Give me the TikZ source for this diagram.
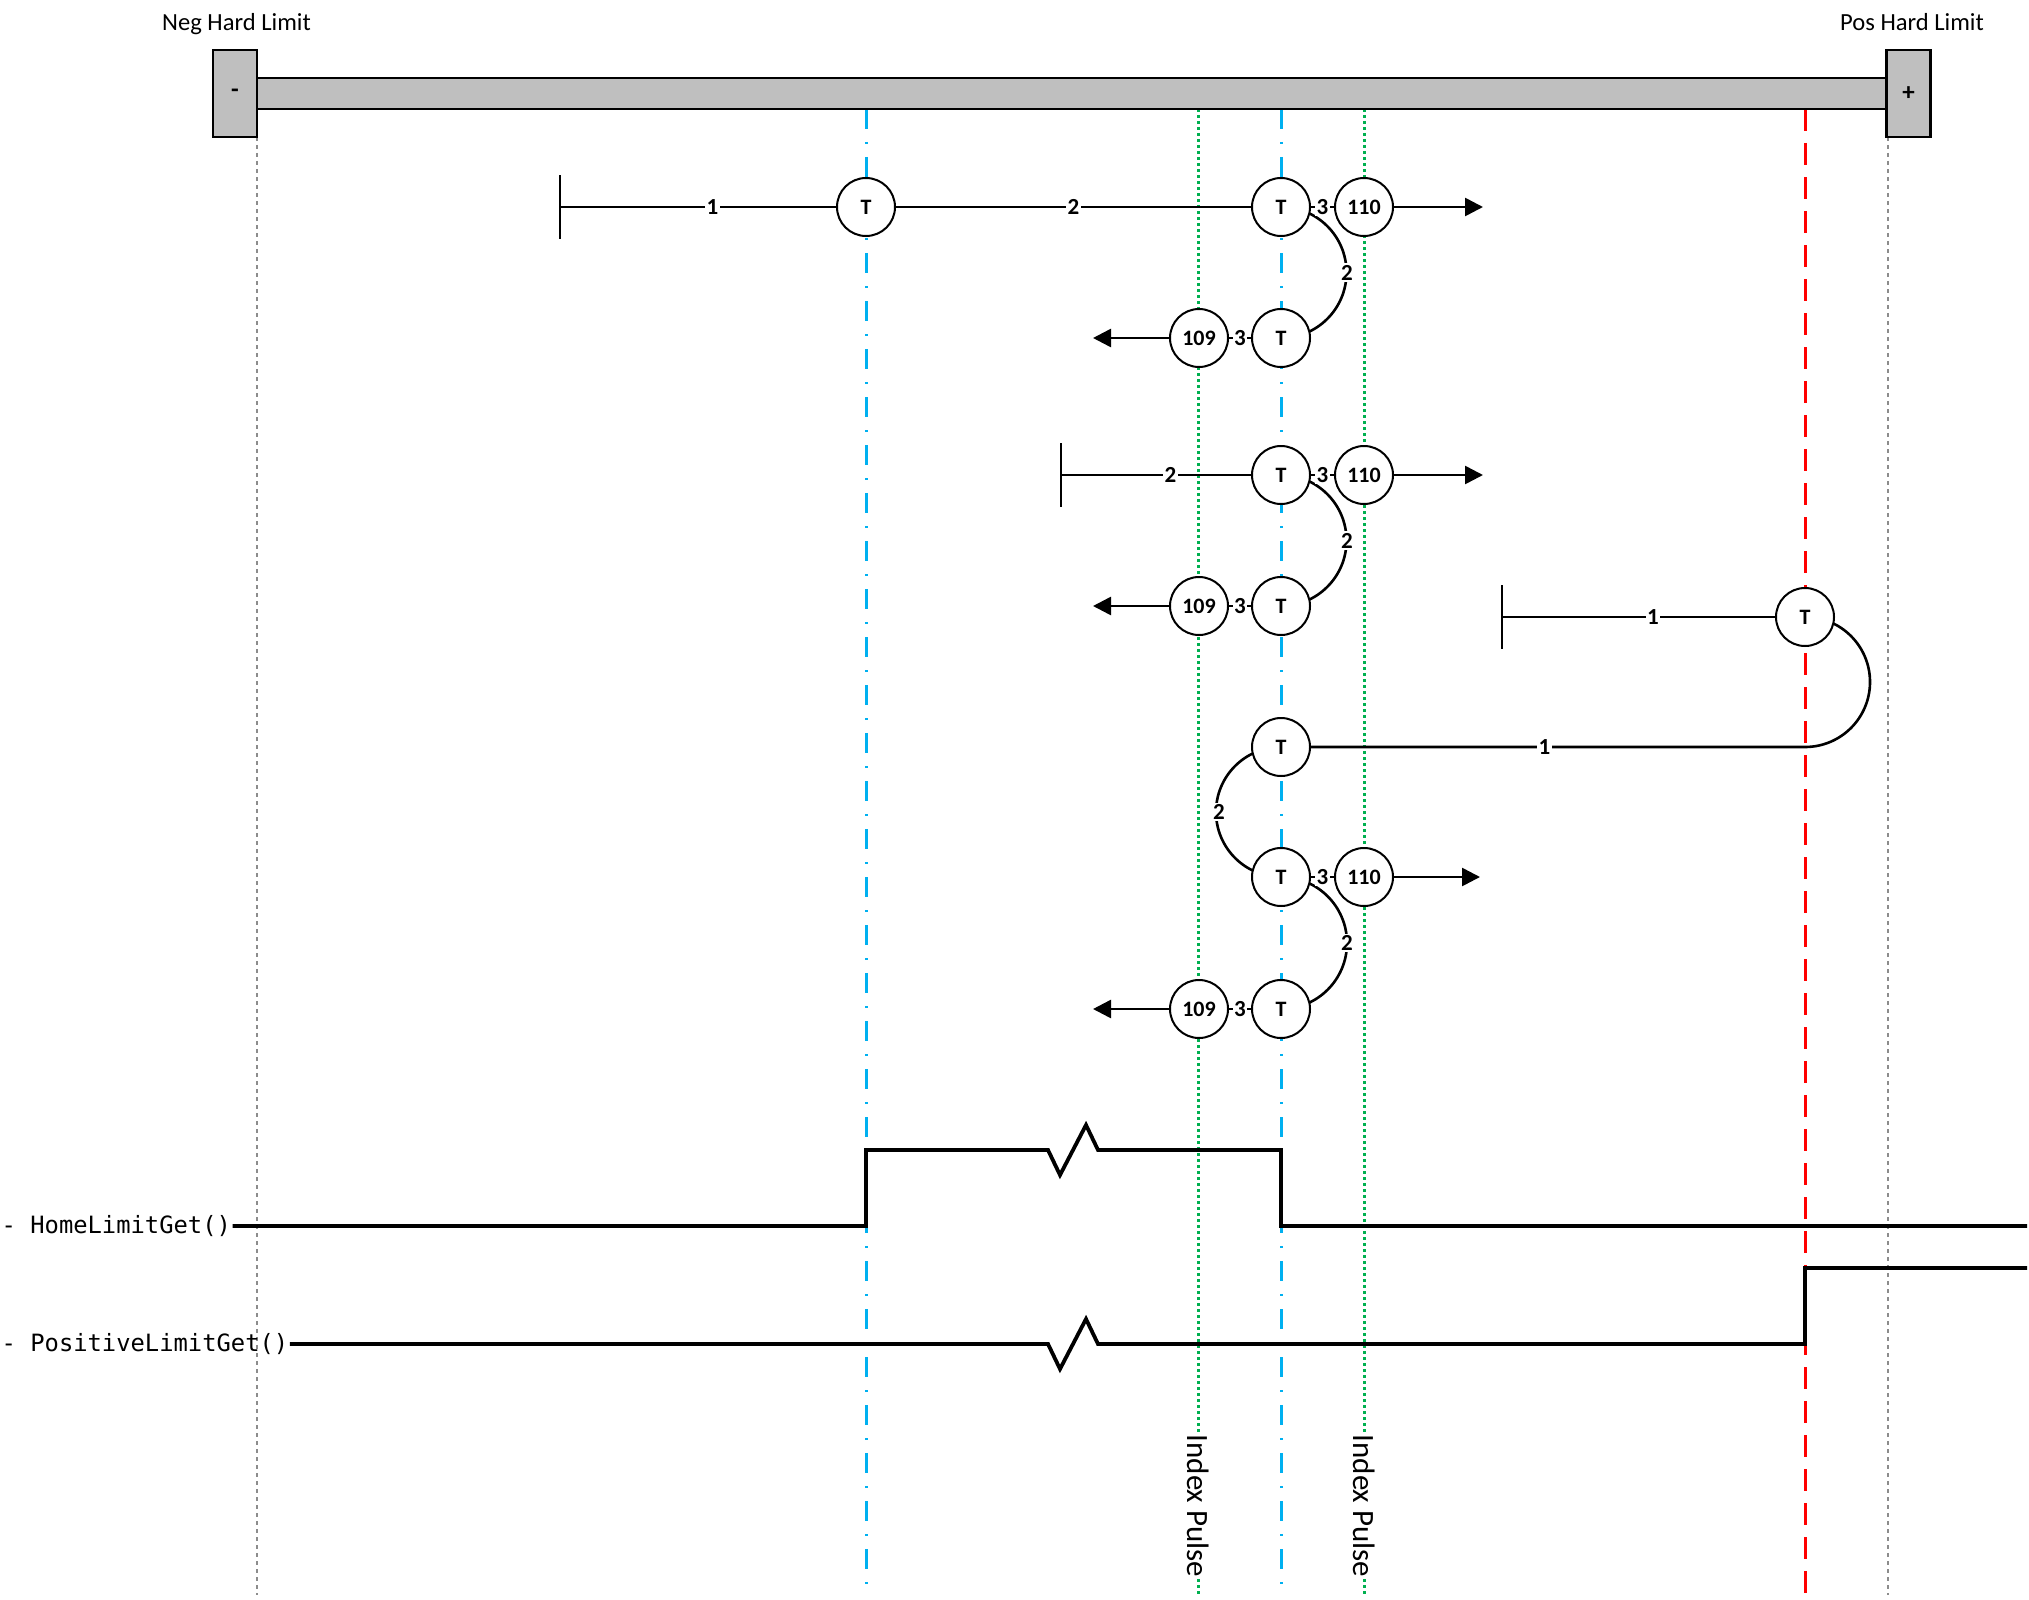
\documentclass[tikz,border=0pt]{standalone}
\usepackage{fontspec}
\setmainfont{Carlito}
\newfontfamily\sigfont{DejaVu Sans Mono}
\usetikzlibrary{arrows.meta,calc}
\definecolor{barfill}{HTML}{BFBFBF}
\definecolor{refblue}{HTML}{00B0F0}
\definecolor{refgreen}{HTML}{00B050}
\definecolor{refgray}{HTML}{8C8C8C}
\definecolor{refred}{HTML}{FF0000}
\pgfdeclarelayer{bg}
\pgfsetlayers{bg,main}
\begin{document}
\begin{tikzpicture}[x=1pt,y=-1pt,
  conn/.style={line width=2.6pt},
  tnode/.style={circle,draw,line width=2pt,fill=white,minimum size=58pt,inner sep=0pt,font=\fontsize{22}{22}\selectfont\bfseries},
  elbl/.style={fill=white,inner sep=1.5pt,font=\fontsize{23}{23}\selectfont\bfseries},
  arr/.style={conn,-{Triangle[length=18pt,width=18pt]}},
  sig/.style={line width=3.8pt,line join=miter},
  limbox/.style={draw,fill=barfill,line width=2.2pt,minimum width=44pt,minimum height=87pt,inner sep=0pt,font=\fontsize{25}{25}\selectfont\bfseries},
  toplbl/.style={anchor=base,inner sep=0pt,font=\fontsize{24.6}{30}\selectfont},
  siglbl/.style={anchor=west,inner sep=1.5pt,font=\sigfont\fontsize{23.8}{28}\selectfont},
  pulselbl/.style={rotate=-90,fill=white,inner sep=1pt,font=\fontsize{31}{31}\selectfont},
  grayline/.style={refgray,line width=2.5pt,dash pattern=on 4pt off 4pt},
  blueline/.style={refblue,line width=3pt,dash pattern=on 20pt off 13pt on 2pt off 13pt},
  greenline/.style={refgreen,line width=3pt,dash pattern=on 3pt off 3pt},
  redline/.style={refred,line width=3pt,dash pattern=on 22pt off 12pt},
  ]
\useasboundingbox (0,0) rectangle (2029,1600);

% reference verticals
\begin{pgfonlayer}{bg}
\draw[grayline] (257,137) -- (257,1595);
\draw[grayline] (1888,137) -- (1888,1595);
\draw[blueline] (866,109) -- (866,1595);
\draw[blueline] (1281,109) -- (1281,1595);
\draw[greenline] (1198,109) -- (1198,1595);
\draw[greenline] (1364,109) -- (1364,1595);
\draw[redline] (1805,109) -- (1805,1595);
\end{pgfonlayer}

% travel bar
\draw[line width=2.2pt,fill=barfill] (257,78) rectangle (1888,109);
\node[limbox] (neg) at (235,93.5) {-};
\node[limbox] (pos) at (1908.5,93.5) {+};
\node[toplbl] (negl) at (236.5,31) {Neg Hard Limit};
\node[toplbl] (posl) at (1912,31) {Pos Hard Limit};

% nodes
\node[tnode] (a1) at (866,207) {T};
\node[tnode] (a2) at (1281,207) {T};
\node[tnode] (a3) at (1364,207) {110};
\node[tnode] (b1) at (1199,338) {109};
\node[tnode] (b2) at (1281,338) {T};
\node[tnode] (c1) at (1281,475) {T};
\node[tnode] (c2) at (1364,475) {110};
\node[tnode] (d1) at (1199,606) {109};
\node[tnode] (d2) at (1281,606) {T};
\node[tnode] (e1) at (1805,617) {T};
\node[tnode] (f1) at (1281,747) {T};
\node[tnode] (g1) at (1281,877) {T};
\node[tnode] (g2) at (1364,877) {110};
\node[tnode] (h1) at (1199,1009) {109};
\node[tnode] (h2) at (1281,1009) {T};

\coordinate (s1) at (560,207);
\coordinate (s3) at (1061,475);
\coordinate (s5) at (1502,617);
\coordinate (ea) at (1483,207);
\coordinate (eb) at (1093,338);
\coordinate (ec) at (1483,475);
\coordinate (ed) at (1093,606);
\coordinate (eg) at (1480,877);
\coordinate (eh) at (1093,1009);
\coordinate (cR) at (1805,747);

% start bars
\draw[conn] (s1) ++(0,-32) -- ++(0,64);
\draw[conn] (s3) ++(0,-32) -- ++(0,64);
\draw[conn] (s5) ++(0,-32) -- ++(0,64);

% row 1 / 2
\draw[conn] (s1) -- node[elbl,pos=0.552]{1} (a1);
\draw[conn] (a1) -- node[elbl]{2} (a2);
\draw[conn] (a2) -- node[elbl]{3} (a3);
\draw[arr] (a3) -- (ea);
\draw[conn] (b2) -- node[elbl]{3} (b1);
\draw[arr] (b1) -- (eb);
% row 3 / 4
\draw[conn] (s3) -- node[elbl,pos=0.576]{2} (c1);
\draw[conn] (c1) -- node[elbl]{3} (c2);
\draw[arr] (c2) -- (ec);
\draw[conn] (d2) -- node[elbl]{3} (d1);
\draw[arr] (d1) -- (ed);
% row 5
\draw[conn] (s5) -- node[elbl,pos=0.553]{1} (e1);
% row 7 / 8
\draw[conn] (g1) -- node[elbl]{3} (g2);
\draw[arr] (g2) -- (eg);
\draw[conn] (h2) -- node[elbl]{3} (h1);
\draw[arr] (h1) -- (eh);

% arcs
\begin{pgfonlayer}{bg}
\draw[conn] (a2.center) arc[start angle=-90,end angle=90,radius=65.5];
\draw[conn] (c1.center) arc[start angle=-90,end angle=90,radius=65.5];
\draw[conn] (f1.center) arc[start angle=-90,end angle=-270,radius=65];
\draw[conn] (g1.center) arc[start angle=-90,end angle=90,radius=66];
\draw[conn] (f1) -- (cR) arc[start angle=90,end angle=-90,radius=65];
\end{pgfonlayer}
\node[elbl] (l1) at ($(a2)!0.5!(b2)+(66,0)$) {2};
\node[elbl] (l2) at ($(c1)!0.5!(d2)+(66,0)$) {2};
\node[elbl] (l3) at ($(f1)!0.5!(g1)+(-62,0)$) {2};
\node[elbl] (l4) at ($(g1)!0.5!(h2)+(66,0)$) {2};
\node[elbl] (l5) at ($(f1)!0.476!(cR)+(14,0)$) {1};

% signals
\node[siglbl] (home) at (0,1226) {- HomeLimitGet()};
\node[siglbl] (posg) at (0,1344) {- PositiveLimitGet()};
\draw[sig] (home.east) -- (866,1226) -- (866,1150) -- (1048,1150) -- (1060,1175) -- (1086,1125) -- (1098,1150) -- (1281,1150) -- (1281,1226) -- (2027,1226);
\draw[sig] (posg.east) -- (1048,1344) -- (1060,1369) -- (1086,1319) -- (1098,1344) -- (1805,1344) -- (1805,1268) -- (2027,1268);

% index pulse labels
\node[pulselbl] (ip1) at (1198,1506) {Index Pulse};
\node[pulselbl] (ip2) at (1364,1506) {Index Pulse};
\end{tikzpicture}
\end{document}
